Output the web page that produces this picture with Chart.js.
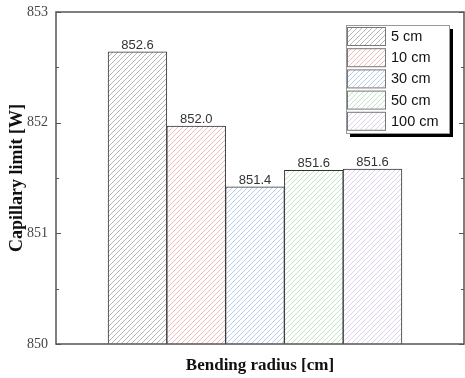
<!DOCTYPE html>
<html>
<head>
<meta charset="utf-8">
<script src="https://cdn.jsdelivr.net/npm/chart.js@4/dist/chart.umd.min.js"></script>
<style>
  html, body { margin: 0; padding: 0; background: #fff; }
  #wrap { width: 465px; height: 378px; }
</style>
</head>
<body>
<div id="wrap"><canvas id="capChart"></canvas></div>
<script>
const radii = ["5 cm", "10 cm", "30 cm", "50 cm", "100 cm"];
const positions = [1, 2, 3, 4, 5];
const capillaryLimit = [852.64, 851.97, 851.42, 851.57, 851.58];
const hatchColors = ["#aeaeae", "#f0b4b4", "#b2c6ec", "#bbe2c3", "#d9cdee"];
const yTicks = [850, 850.5, 851, 851.5, 852, 852.5, 853];

function hatch(color) {
  const c = document.createElement("canvas");
  c.width = 5;
  c.height = 5;
  const g = c.getContext("2d");
  g.fillStyle = "#fff";
  g.fillRect(0, 0, 5, 5);
  g.strokeStyle = color;
  g.lineWidth = 0.9;
  g.beginPath();
  g.moveTo(-1, 6); g.lineTo(6, -1);
  g.moveTo(-1, 1); g.lineTo(1, -1);
  g.moveTo(4, 6); g.lineTo(6, 4);
  g.stroke();
  return g.createPattern(c, "repeat");
}

const patterns = hatchColors.map(hatch);

// frame, inward ticks, value labels, legend box
const decorations = {
  id: "decorations",
  afterDatasetsDraw(chart) {
    const { ctx, chartArea: a, scales } = chart;
    const y = scales.y;
    ctx.save();
    ctx.strokeStyle = "#555";
    ctx.lineWidth = 1.5;
    ctx.strokeRect(a.left, a.top, a.right - a.left, a.bottom - a.top);

    ctx.lineWidth = 1;
    yTicks.forEach((v) => {
      const py = Math.round(y.getPixelForValue(v)) + 0.5;
      const len = Number.isInteger(v) ? 5 : 3;
      ctx.beginPath();
      ctx.moveTo(a.left, py); ctx.lineTo(a.left + len, py);
      ctx.moveTo(a.right, py); ctx.lineTo(a.right - len, py);
      ctx.stroke();
    });

    const meta = chart.getDatasetMeta(0);
    ctx.fillStyle = "#333";
    ctx.font = "13px 'Liberation Sans', Arial, sans-serif";
    ctx.textAlign = "center";
    ctx.textBaseline = "alphabetic";
    meta.data.forEach((bar, i) => {
      ctx.fillText(capillaryLimit[i].toFixed(1), bar.x, bar.y - 3);
    });

    // legend
    const lx = 346, ly = 25, lw = 103, lh = 108;
    ctx.fillStyle = "#000";
    ctx.fillRect(lx + 4, ly + 4, lw, lh);
    ctx.fillStyle = "#fff";
    ctx.fillRect(lx, ly, lw, lh);
    ctx.strokeStyle = "#999";
    ctx.strokeRect(lx + 0.5, ly + 0.5, lw, lh);
    ctx.font = "14.5px 'Liberation Sans', Arial, sans-serif";
    ctx.textAlign = "left";
    ctx.textBaseline = "middle";
    radii.forEach((r, i) => {
      const ry = ly + 2 + i * 21.2;
      ctx.fillStyle = patterns[i];
      ctx.fillRect(lx + 1, ry, 39, 18);
      ctx.strokeStyle = "#777";
      ctx.strokeRect(lx + 1.5, ry + 0.5, 38, 18);
      ctx.fillStyle = "#111";
      ctx.fillText(r, lx + 45, ry + 10);
    });
    ctx.restore();
  },
};

new Chart(document.getElementById("capChart"), {
  type: "bar",
  data: {
    labels: radii,
    datasets: [
      {
        label: "Capillary limit",
        data: positions.map((x, i) => ({ x: x, y: capillaryLimit[i] })),
        backgroundColor: patterns,
        borderColor: "#333",
        borderWidth: 1,
        borderSkipped: "bottom",
        barPercentage: 1,
        categoryPercentage: 1,
      },
    ],
  },
  options: {
    responsive: true,
    maintainAspectRatio: false,
    animation: false,
    layout: { padding: { top: 12, right: 1 } },
    scales: {
      x: {
        type: "linear",
        min: -0.386,
        max: 6.556,
        offset: false,
        grid: { display: false },
        border: { display: false },
        ticks: { display: false },
        title: {
          display: true,
          text: "Bending radius [cm]",
          color: "#111",
          font: { family: "'Liberation Serif', 'Times New Roman', serif", size: 17, weight: "bold" },
          padding: { top: 0, bottom: 2 },
        },
        afterFit(scale) { scale.height = 34; },
      },
      y: {
        min: 850,
        max: 853,
        grid: { display: false },
        border: { display: false },
        ticks: {
          stepSize: 1,
          padding: 0,
          color: "#444",
          font: { family: "'Liberation Serif', 'Times New Roman', serif", size: 14 },
        },
        title: {
          display: true,
          text: "Capillary limit [W]",
          color: "#111",
          font: { family: "'Liberation Serif', 'Times New Roman', serif", size: 18, weight: "bold" },
          padding: { top: 7, bottom: 0 },
        },
        afterFit(scale) { scale.width = 56; },
      },
    },
    plugins: {
      legend: { display: false },
      tooltip: { enabled: false },
    },
  },
  plugins: [decorations],
});
</script>
</body>
</html>
